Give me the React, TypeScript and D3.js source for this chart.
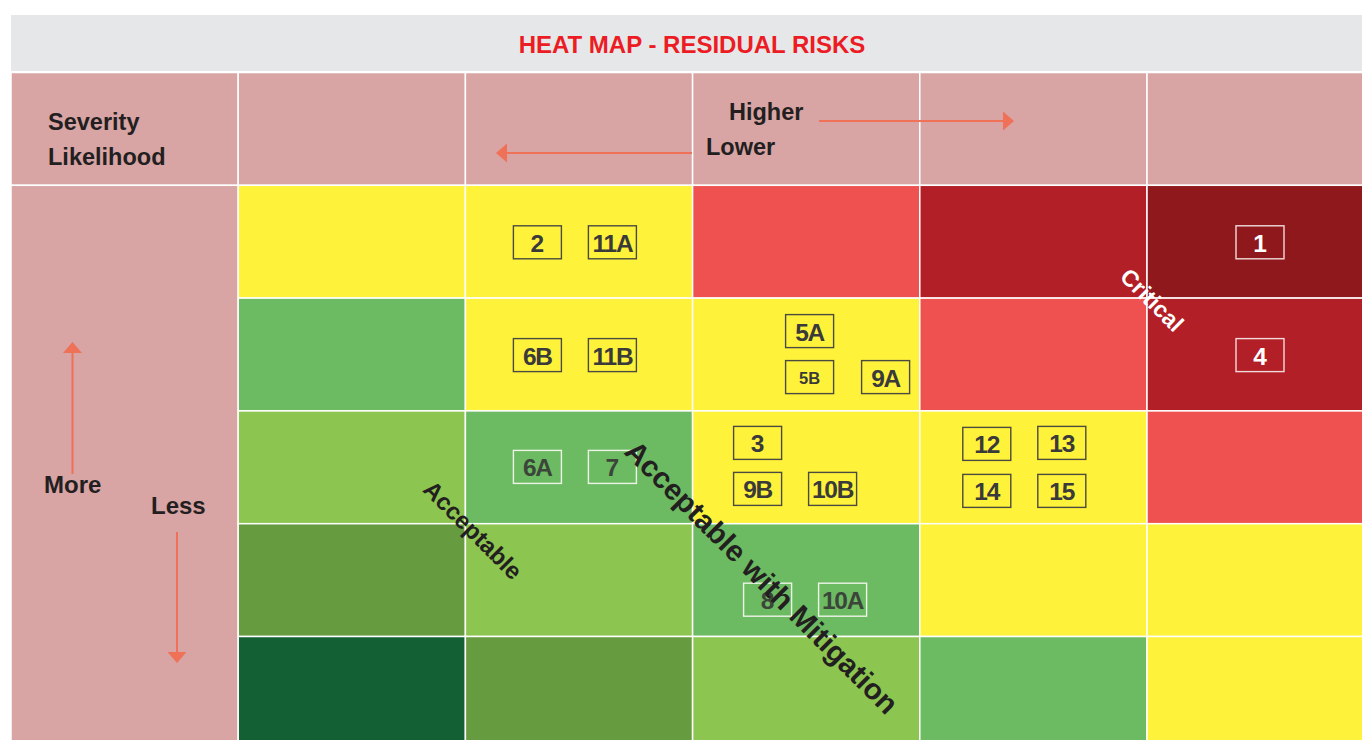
import React from 'react';
import * as d3 from 'd3';

// severity runs left (lower) to right (higher), likelihood top (more) to bottom (less)
const severity = ['S1', 'S2', 'S3', 'S4', 'S5'];
const likelihood = ['L5', 'L4', 'L3', 'L2', 'L1'];

const riskLevels = [
  ['medium', 'medium', 'high', 'veryhigh', 'critical'],
  ['low', 'medium', 'medium', 'high', 'veryhigh'],
  ['verylow', 'low', 'medium', 'medium', 'high'],
  ['minimal', 'verylow', 'low', 'medium', 'medium'],
  ['negligible', 'minimal', 'verylow', 'low', 'medium'],
];

// [risk id, likelihood row, severity column]
const risks: [string, string, string][] = [
  ['2', 'L5', 'S2'], ['11A', 'L5', 'S2'], ['1', 'L5', 'S5'],
  ['6B', 'L4', 'S2'], ['11B', 'L4', 'S2'],
  ['5A', 'L4', 'S3'], ['5B', 'L4', 'S3'], ['9A', 'L4', 'S3'],
  ['4', 'L4', 'S5'],
  ['6A', 'L3', 'S2'], ['7', 'L3', 'S2'],
  ['3', 'L3', 'S3'], ['9B', 'L3', 'S3'], ['10B', 'L3', 'S3'],
  ['12', 'L3', 'S4'], ['13', 'L3', 'S4'], ['14', 'L3', 'S4'], ['15', 'L3', 'S4'],
  ['8', 'L2', 'S3'], ['10A', 'L2', 'S3'],
];

const zoneLabels = ['Critical', 'Acceptable', 'Acceptable with Mitigation'];

const W = 1362;
const H = 740;
const FONT = '"Liberation Sans", Arial, Helvetica, sans-serif';

const levelColor: Record<string, string> = {
  critical: '#8e181c',
  veryhigh: '#b31f26',
  high: '#ef5151',
  medium: '#fff23a',
  low: '#6cbb62',
  verylow: '#8cc54f',
  minimal: '#669b3f',
  negligible: '#126033',
};

// where each box sits inside its cell (centre, from cell's top-left)
const slot: Record<string, [number, number]> = {
  '2': [72, 57], '11A': [147, 57], '1': [113, 57],
  '6B': [72, 57], '11B': [147, 57],
  '5A': [117, 33], '5B': [117, 79], '9A': [193, 79],
  '4': [113, 57],
  '6A': [72, 56], '7': [147, 56],
  '3': [65, 32], '9B': [65, 78], '10B': [140, 78],
  '12': [67, 33], '13': [142, 32], '14': [67, 80], '15': [142, 80],
  '8': [75, 76], '10A': [150, 76],
};

const PINK = '#d8a4a4';
const ARROW = '#ef7158';
const INK = '#231f20';

const App: React.FC = () => {
  const x = d3.scaleBand<string>()
    .domain(['head', ...severity])
    .range([11, 11 + 6 * 227.2]);
  const y = d3.scaleBand<string>()
    .domain(['head', ...likelihood])
    .range([72.5, 72.5 + 6 * 112.8]);
  const cw = x.bandwidth();
  const ch = y.bandwidth();

  const arrowHead = (tx: number, ty: number, dir: 'up' | 'down' | 'left' | 'right') => {
    const len = 11, half = 9.5;
    let pts: [number, number][];
    if (dir === 'up') pts = [[tx, ty], [tx - half, ty + len], [tx + half, ty + len]];
    else if (dir === 'down') pts = [[tx, ty], [tx - half, ty - len], [tx + half, ty - len]];
    else if (dir === 'left') pts = [[tx, ty], [tx + len, ty - half], [tx + len, ty + half]];
    else pts = [[tx, ty], [tx - len, ty - half], [tx - len, ty + half]];
    return <polygon points={pts.map(p => p.join(',')).join(' ')} fill={ARROW} />;
  };

  const levelOf = (row: string, col: string) =>
    riskLevels[likelihood.indexOf(row)][severity.indexOf(col)];

  const boxStyle = (level: string) => {
    if (level === 'critical' || level === 'veryhigh')
      return { stroke: '#f1dada', text: '#ffffff' };
    if (level === 'medium') return { stroke: '#4a4a40', text: '#3a3a3a' };
    return { stroke: '#eef3e8', text: '#3c453a' };
  };

  return (
    <svg
      width={W}
      height={H}
      style={{ position: 'absolute', left: 0, top: 0, display: 'block', background: '#fff' }}
      fontFamily={FONT}
    >
      {/* title bar */}
      <rect x={11} y={15} width={W - 11} height={56} fill="#e6e7e8" />
      <text x={692} y={53} textAnchor="middle" fontSize={24} fontWeight="bold" fill="#ec1c24">
        HEAT MAP - RESIDUAL RISKS
      </text>

      {/* header row */}
      {x.domain().map(c => (
        <rect key={'h' + c} x={x(c)} y={y('head')} width={cw} height={ch}
          fill={PINK} stroke="#fff" strokeWidth={1.5} />
      ))}
      {/* merged likelihood column */}
      <rect x={x('head')} y={y('L5')} width={cw} height={ch * 5 + 20}
        fill={PINK} stroke="#fff" strokeWidth={1.5} />

      {/* heat cells */}
      {likelihood.map(r => severity.map(c => (
        <rect key={r + c} x={x(c)} y={y(r)} width={cw} height={ch}
          fill={levelColor[levelOf(r, c)]} stroke="#fff" strokeWidth={1.5} />
      )))}

      {/* header texts */}
      <text x={48} y={130} fontSize={23.5} fontWeight="bold" fill={INK}>Severity</text>
      <text x={48} y={165} fontSize={23.5} fontWeight="bold" fill={INK}>Likelihood</text>
      <text x={729} y={120} fontSize={23.5} fontWeight="bold" fill={INK}>Higher</text>
      <text x={706} y={155} fontSize={23.5} fontWeight="bold" fill={INK}>Lower</text>
      <line x1={819} y1={121} x2={1004} y2={121} stroke={ARROW} strokeWidth={2} />
      {arrowHead(1014, 121, 'right')}
      <line x1={692} y1={153} x2={506} y2={153} stroke={ARROW} strokeWidth={2} />
      {arrowHead(496, 153, 'left')}

      <text x={44} y={493} fontSize={24} fontWeight="bold" fill={INK}>More</text>
      <text x={151} y={514} fontSize={24} fontWeight="bold" fill={INK}>Less</text>
      <line x1={72.5} y1={474} x2={72.5} y2={352} stroke={ARROW} strokeWidth={2} />
      {arrowHead(72.5, 342, 'up')}
      <line x1={177} y1={532} x2={177} y2={653} stroke={ARROW} strokeWidth={2} />
      {arrowHead(177, 663, 'down')}

      {/* risk boxes */}
      {risks.map(([id, r, c]) => {
        const [dx, dy] = slot[id];
        const cx = (x(c) as number) + dx;
        const cy = (y(r) as number) + dy;
        const st = boxStyle(levelOf(r, c));
        return (
          <g key={id}>
            <rect x={cx - 24} y={cy - 16.5} width={48} height={33}
              fill="none" stroke={st.stroke} strokeWidth={1.4} />
            <text x={cx} y={cy + 1} textAnchor="middle" dominantBaseline="central"
              fontSize={id === '5B' ? 16.5 : 24.5} fontWeight="bold" fill={st.text}
              letterSpacing={id.length > 1 && id !== '5B' ? -1.2 : 0}>
              {id}
            </text>
          </g>
        );
      })}

      {/* zone labels on the diagonal */}
      <text x={1152} y={300} transform="rotate(45 1152 300)" textAnchor="middle"
        dominantBaseline="central" fontSize={23} fontWeight="bold" fill="#fff">
        {zoneLabels[0]}
      </text>
      <text x={473} y={530} transform="rotate(45 473 530)" textAnchor="middle"
        dominantBaseline="central" fontSize={24} fontWeight="bold" fill={INK}>
        {zoneLabels[1]}
      </text>
      <text x={762} y={577} transform="rotate(45 762 577)" textAnchor="middle"
        dominantBaseline="central" fontSize={29.5} fontWeight="bold" fill={INK}>
        {zoneLabels[2]}
      </text>
    </svg>
  );
};

export default App;
